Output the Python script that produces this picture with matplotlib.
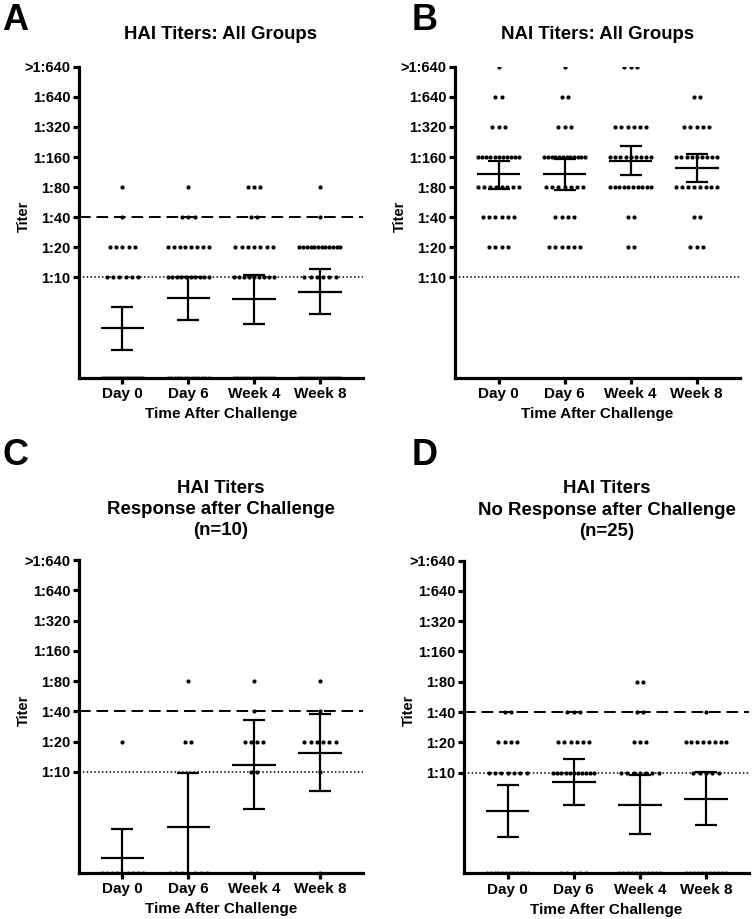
import numpy as np
import matplotlib
matplotlib.use('Agg')
import matplotlib.pyplot as plt

plt.rcParams['font.family'] = ['Liberation Sans', 'DejaVu Sans']
plt.rcParams['font.weight'] = 'bold'
plt.rcParams['axes.labelweight'] = 'bold'

# --- data ---------------------------------------------------------------
groups = ['Day 0', 'Day 6', 'Week 4', 'Week 8']
tick_labels = ['1:10', '1:20', '1:40', '1:80', '1:160', '1:320', '1:640', '>1:640']
# level -1 = below 1:10 (drawn on the x axis), 0 = 1:10 ... 7 = >1:640
levels = [-1, 0, 1, 2, 3, 4, 5, 6, 7]

# number of subjects at each level, one row per time point
hai_all_counts = [
    [22, 6, 5, 1, 1, 0, 0, 0, 0],
    [13, 10, 8, 3, 1, 0, 0, 0, 0],
    [14, 9, 7, 2, 3, 0, 0, 0, 0],
    [15, 6, 12, 1, 1, 0, 0, 0, 0],
]
nai_all_counts = [
    [0, 0, 4, 6, 8, 11, 3, 2, 1],
    [0, 0, 6, 4, 7, 12, 3, 2, 1],
    [0, 0, 2, 2, 10, 9, 6, 0, 3],
    [0, 0, 3, 2, 8, 9, 5, 2, 0],
]
hai_resp_counts = [
    [9, 0, 1, 0, 0, 0, 0, 0, 0],
    [7, 0, 2, 0, 1, 0, 0, 0, 0],
    [2, 2, 4, 1, 1, 0, 0, 0, 0],
    [1, 1, 6, 1, 1, 0, 0, 0, 0],
]
hai_noresp_counts = [
    [12, 7, 4, 2, 0, 0, 0, 0, 0],
    [5, 11, 6, 3, 0, 0, 0, 0, 0],
    [11, 7, 3, 2, 2, 0, 0, 0, 0],
    [11, 5, 8, 1, 0, 0, 0, 0, 0],
]

# geometric mean and SEM limits, in log2(titer/10) units
hai_all_mean = [-1.69, -0.69, -0.73, -0.47]
hai_all_hi = [-0.97, 0.01, 0.07, 0.28]
hai_all_lo = [-2.40, -1.40, -1.53, -1.21]

nai_all_mean = [3.42, 3.42, 3.87, 3.64]
nai_all_hi = [3.88, 3.92, 4.36, 4.10]
nai_all_lo = [2.93, 2.90, 3.39, 3.17]

hai_resp_mean = [-2.85, -1.81, 0.24, 0.63]
hai_resp_hi = [-1.88, -0.04, 1.70, 1.92]
hai_resp_lo = [-3.82, -3.58, -1.23, -0.64]

hai_noresp_mean = [-1.26, -0.31, -1.07, -0.86]
hai_noresp_hi = [-0.42, 0.44, -0.09, 0.02]
hai_noresp_lo = [-2.12, -1.08, -2.03, -1.75]

panels = [
    ('A', 'HAI Titers: All Groups', hai_all_counts,
     hai_all_mean, hai_all_hi, hai_all_lo, True),
    ('B', 'NAI Titers: All Groups', nai_all_counts,
     nai_all_mean, nai_all_hi, nai_all_lo, False),
    ('C', 'HAI Titers\nResponse after Challenge\n(n=10)', hai_resp_counts,
     hai_resp_mean, hai_resp_hi, hai_resp_lo, True),
    ('D', 'HAI Titers\nNo Response after Challenge\n(n=25)', hai_noresp_counts,
     hai_noresp_mean, hai_noresp_hi, hai_noresp_lo, True),
]

# --- drawing -----------------------------------------------------------
W, H = 752, 919
fig = plt.figure(figsize=(W / 100, H / 100), dpi=100)

# axes boxes in pixels: left, top, right, bottom
boxes = [
    (78.7, 66.7, 363.0, 377.7),
    (454.7, 66.7, 740.0, 377.7),
    (78.7, 560.0, 363.0, 872.7),
    (463.7, 560.7, 749.3, 873.3),
]
letter_pos = [(2, 3), (412, 3), (2, 438), (412, 438)]

ybot = -3.33
lw_spine = 2.3

for (letter, title, counts, mean, hi, lo, show40), box, lp in zip(panels, boxes, letter_pos):
    l, t, r, b = box
    ax = fig.add_axes([l / W, 1 - b / H, (r - l) / W, (b - t) / H])
    ax.set_ylim(ybot, 7)
    ax.set_xlim(-0.665, 3.655)

    for i, row in enumerate(counts):
        for lev, n in zip(levels, row):
            if n == 0:
                continue
            step = min(0.095, 0.62 / max(n - 1, 1))
            xs = i + (np.arange(n) - (n - 1) / 2) * step
            if lev < 0:
                ax.plot(xs, np.full(n, ybot + 0.035), 'o', ms=2.2, color='#9a9a9a',
                        mec='none', clip_on=False, zorder=1)
            else:
                ax.plot(xs, np.full(n, lev), 'o', ms=3.0, color='black',
                        mec='none', zorder=3)

    xpos = np.arange(len(groups))
    ax.hlines(mean, xpos - 0.33, xpos + 0.33, color='black', lw=1.6, zorder=4)
    ax.errorbar(xpos, mean, yerr=[np.array(mean) - np.array(lo), np.array(hi) - np.array(mean)],
                fmt='none', ecolor='black', elinewidth=1.6, capsize=8, capthick=1.6, zorder=4)

    ax.axhline(0, color='black', lw=1.1, ls=(0, (1, 1.5)), zorder=2)
    if show40:
        ax.axhline(2, color='black', lw=1.4, ls=(0, (6, 3)), zorder=2)

    for s in ['top', 'right']:
        ax.spines[s].set_visible(False)
    for s in ['left', 'bottom']:
        ax.spines[s].set_linewidth(lw_spine)
        ax.spines[s].set_zorder(5)

    ax.set_yticks(range(8))
    ax.set_yticklabels(tick_labels)
    ax.set_xticks(xpos)
    ax.set_xticklabels(groups)
    ax.tick_params(axis='both', width=lw_spine, length=4, pad=2)
    ax.tick_params(axis='y', labelsize=10.5)
    ax.tick_params(axis='x', labelsize=11, pad=3)
    ax.set_xlabel('Time After Challenge', fontsize=11, labelpad=4)
    ax.set_ylabel('Titer', fontsize=10.5)
    ax.yaxis.set_label_coords(-0.167, 0.52)
    if '\n' in title:
        ax.set_title(title, fontsize=13.4, fontweight='bold', pad=18, linespacing=1.32)
    else:
        ax.set_title(title, fontsize=13.4, fontweight='bold', pad=20)

    fig.text(lp[0] / W, 1 - lp[1] / H, letter, fontsize=26, fontweight='bold',
             ha='left', va='top')

fig.savefig('out.png', dpi=100)
